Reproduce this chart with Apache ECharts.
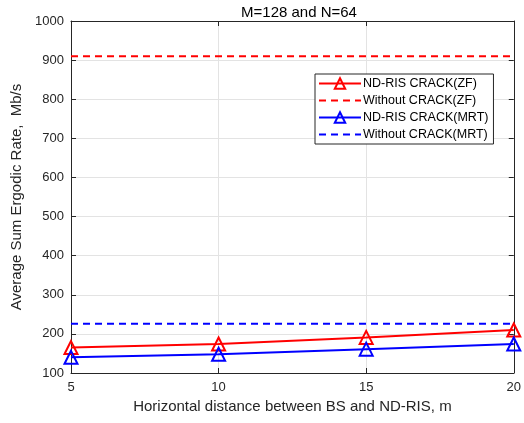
<!DOCTYPE html>
<html><head><meta charset="utf-8">
<script src="https://cdn.jsdelivr.net/npm/echarts@6/dist/echarts.min.js"></script>
<style>html,body{margin:0;padding:0;background:#fff}#c{width:524px;height:423px}</style>
</head><body><div id="c"></div>
<script>
const distances = [5, 10, 15, 20];
const zfCrack = [165, 174, 191, 210];
const zfNoCrack = [910, 910, 910, 910];
const mrtCrack = [140, 148, 161, 174];
const mrtNoCrack = [226, 226, 226, 226];
const names = ['ND-RIS CRACK(ZF)', 'Without CRACK(ZF)', 'ND-RIS CRACK(MRT)', 'Without CRACK(MRT)'];
const pair = (xs, ys) => xs.map((x, i) => [x, ys[i]]);
const txt = '#262626';
const font = 'Liberation Sans, Arial, sans-serif';
const chart = echarts.init(document.getElementById('c'));
const axisCommon = {
  axisLine: {show: true, lineStyle: {color: txt, width: 1}},
  axisTick: {show: true, inside: true, length: 5, lineStyle: {color: txt}},
  splitLine: {show: false}
};
const hide = {color: 'transparent', borderColor: 'transparent', borderWidth: 0};
chart.setOption({
  animation: false,
  title: {text: 'M=128 and N=64', left: 294, top: 0, textAlign: 'center',
    textStyle: {color: '#000', fontSize: 15, fontWeight: 'normal', fontFamily: font}},
  grid: {left: 71, right: 6, top: 21, bottom: 50, containLabel: false},
  legend: {
    orient: 'vertical', left: 315, top: 74,
    backgroundColor: '#fff', borderColor: txt, borderWidth: 1,
    padding: [3, 5, 3, 3], itemGap: 4, itemWidth: 42, itemHeight: 13,
    textStyle: {color: '#000', fontSize: 12.5, fontFamily: font, padding: [0, 0, 0, -3]},
    data: [
      {name: names[0]},
      {name: names[1], itemStyle: hide},
      {name: names[2]},
      {name: names[3], itemStyle: hide}
    ]
  },
  xAxis: [
    Object.assign({type: 'value', min: 5, max: 20, interval: 5, position: 'bottom',
      name: 'Horizontal distance between BS and ND-RIS, m', nameLocation: 'middle', nameGap: 26,
      nameTextStyle: {color: txt, fontSize: 15, fontFamily: font},
      axisLabel: {color: txt, fontSize: 13, fontFamily: font, margin: 8}}, axisCommon,
      {splitLine: {show: true, lineStyle: {color: '#e3e3e3'}}}),
    Object.assign({type: 'value', min: 5, max: 20, interval: 5, position: 'top',
      axisLabel: {show: false}}, axisCommon)
  ],
  yAxis: [
    Object.assign({type: 'value', min: 100, max: 1000, interval: 100, position: 'left',
      name: 'Average Sum Ergodic Rate,  Mb/s', nameLocation: 'middle', nameGap: 41,
      nameTextStyle: {color: txt, fontSize: 15, fontFamily: font},
      axisLabel: {color: txt, fontSize: 13, fontFamily: font, margin: 7, formatter: v => String(v)}}, axisCommon,
      {splitLine: {show: true, lineStyle: {color: '#e3e3e3'}}}),
    Object.assign({type: 'value', min: 100, max: 1000, interval: 100, position: 'right',
      axisLabel: {show: false}}, axisCommon)
  ],
  series: [
    {name: names[0], type: 'line', data: pair(distances, zfCrack), symbol: 'triangle', symbolSize: 13,
      showAllSymbol: true, lineStyle: {color: '#ff0000', width: 2},
      itemStyle: {color: 'transparent', borderColor: '#ff0000', borderWidth: 2}, color: '#ff0000', z: 3},
    {name: names[1], type: 'line', data: pair(distances, zfNoCrack), symbol: 'none',
      lineStyle: {color: '#ff0000', width: 2, type: [7, 5]}, itemStyle: {color: '#ff0000'}, color: '#ff0000'},
    {name: names[2], type: 'line', data: pair(distances, mrtCrack), symbol: 'triangle', symbolSize: 13,
      showAllSymbol: true, lineStyle: {color: '#0000ff', width: 2},
      itemStyle: {color: 'transparent', borderColor: '#0000ff', borderWidth: 2}, color: '#0000ff', z: 3},
    {name: names[3], type: 'line', data: pair(distances, mrtNoCrack), symbol: 'none',
      lineStyle: {color: '#0000ff', width: 2, type: [7, 5]}, itemStyle: {color: '#0000ff'}, color: '#0000ff'}
  ]
});
</script></body></html>
